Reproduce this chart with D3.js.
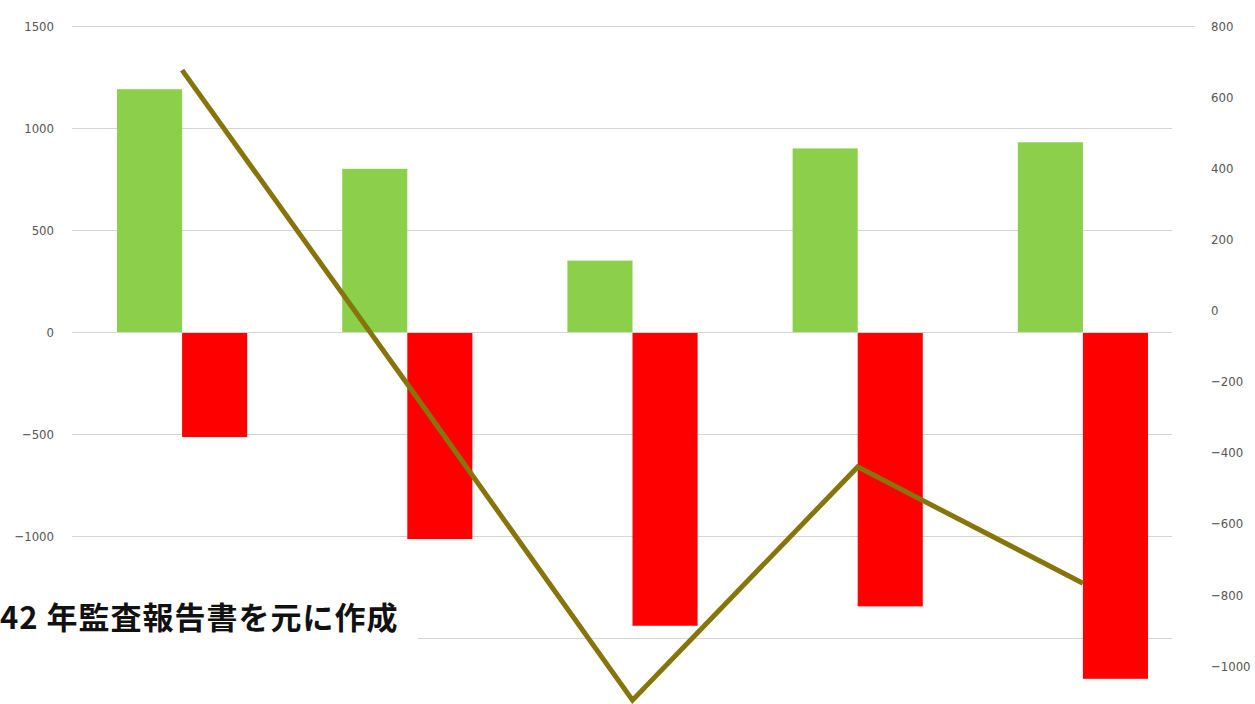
<!DOCTYPE html>
<meta charset="utf-8">
<html>
<style>
  body { margin: 0; background: #fff; }
  .tick text { font-family: "Liberation Sans Narrow", "DejaVu Sans Condensed", sans-serif; font-size: 13px; fill: #555; }
  .grid line { stroke: #d4d4d4; stroke-width: 1px; }
  .line { fill: none; stroke: #85750a; stroke-width: 5px; stroke-linejoin: miter; }
</style>
<body>
<svg width="1255" height="704"></svg>
<script src="https://d3js.org/d3.v7.min.js"></script>
<script>
// categories (no labels shown on the picture)
var categories = ["c1", "c2", "c3", "c4", "c5"];
// left axis series
var plusValues  = [1190, 800, 350, 900, 930];
var minusValues = [-515, -1015, -1440, -1345, -1700];
// right axis series (line)
var lineValues  = [676, -207, -1096, -440, -767];
// tick labels (the -1500 label is hidden under the note box)
var gridTicks  = [1500, 1000, 500, 0, -500, -1000, -1500];
var leftTicks  = [1500, 1000, 500, 0, -500, -1000];
var rightTicks = [800, 600, 400, 200, 0, -200, -400, -600, -800, -1000];
var note = "42 年監査報告書を元に作成";

var svg = d3.select("svg");

// scales
var x = d3.scaleBand().domain(categories).range([69.5, 1195.5]).paddingInner(0.422).paddingOuter(0.211);
var xSub = d3.scaleBand().domain(["plus", "minus"]).range([0, x.bandwidth()]);
var yL = d3.scaleLinear().domain([-1500, 1500]).range([638, 26]);
var yR = d3.scaleLinear().domain([-1000, 800]).range([666, 26]);

// gridlines
svg.append("g")
    .attr("class", "grid")
    .selectAll("line")
    .data(gridTicks)
  .enter().append("line")
    .attr("x1", 72)
    .attr("x2", function(d) { return d == 1500 ? 1195 : 1172; })
    .attr("y1", function(d) { return yL(d) + 0.5; })
    .attr("y2", function(d) { return yL(d) + 0.5; });

// left axis labels
svg.append("g")
    .attr("transform", "translate(58,0)")
    .call(d3.axisLeft(yL).tickValues(leftTicks).tickSize(0).tickPadding(4).tickFormat(d3.format("d")))
    .call(function(g) { g.select(".domain").remove(); });

// right axis labels
svg.append("g")
    .attr("transform", "translate(1207,0)")
    .call(d3.axisRight(yR).tickValues(rightTicks).tickSize(0).tickPadding(4).tickFormat(d3.format("d")))
    .call(function(g) { g.select(".domain").remove(); });

// bars
var cats = svg.append("g").selectAll("g")
    .data(categories)
  .enter().append("g")
    .attr("transform", function(d) { return "translate(" + x(d) + ",0)"; });

cats.append("rect")
    .attr("x", xSub("plus"))
    .attr("width", xSub.bandwidth())
    .attr("y", function(d, i) { return yL(plusValues[i]); })
    .attr("height", function(d, i) { return yL(0) - yL(plusValues[i]); })
    .attr("fill", "#8ccf4b");

cats.append("rect")
    .attr("x", xSub("minus"))
    .attr("width", xSub.bandwidth())
    .attr("y", yL(0) + 1)
    .attr("height", function(d, i) { return yL(minusValues[i]) - yL(0) - 1; })
    .attr("fill", "#ff0000");

// line on the right axis
var line = d3.line()
    .x(function(d, i) { return x(categories[i]) + x.bandwidth() / 2; })
    .y(function(d) { return yR(d); });

svg.append("path")
    .datum(lineValues)
    .attr("class", "line")
    .attr("d", line);

// note box covering lower left
svg.append("rect")
    .attr("x", 0).attr("y", 594)
    .attr("width", 418).attr("height", 110)
    .attr("fill", "#fff");

svg.append("text")
    .attr("x", 0)
    .attr("y", 629)
    .attr("font-family", "'Noto Sans CJK JP', sans-serif")
    .attr("font-weight", "bold")
    .attr("font-size", 31)
    .attr("letter-spacing", 1)
    .attr("fill", "#111")
    .text(note);
</script>
</body>
</html>
